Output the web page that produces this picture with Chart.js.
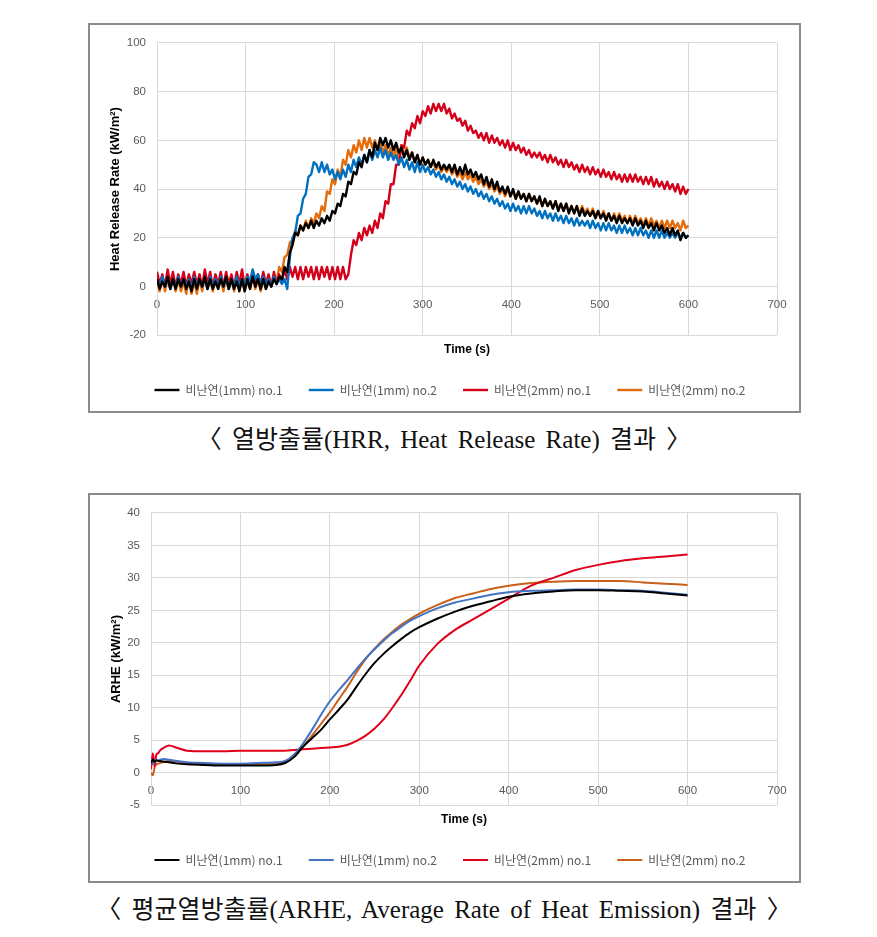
<!DOCTYPE html>
<html>
<head>
<meta charset="utf-8">
<script src="https://cdn.jsdelivr.net/npm/chart.js@4.4.1/dist/chart.umd.min.js"></script>
<style>
    body { margin: 0; background: #fff; width: 877px; height: 937px; position: relative; overflow: hidden; }
    .frame { position: absolute; left: 88px; width: 713px; height: 390px; box-sizing: border-box; border: 2px solid #8c8c8c; pointer-events: none; z-index: 2; }
    .wrap { position: absolute; left: 89px; width: 722px; height: 381px; z-index: 1; }
    .caption { position: absolute; left: 0; width: 888px; height: 30px; line-height: 30px; text-align: center;
               font-family: "Liberation Serif", "Noto Sans CJK KR", serif; font-size: 25px; word-spacing: 4px;
               color: #111; white-space: pre; }
</style>
</head>
<body>
<div class="wrap" style="top:25px"><canvas id="hrrChart"></canvas></div>
<div class="frame" style="top:23px"></div>
<div class="caption" style="top:425px">〈 열방출률(HRR, Heat Release Rate) 결과 〉</div>

<div class="wrap" style="top:495px"><canvas id="arheChart"></canvas></div>
<div class="frame" style="top:493px"></div>
<div class="caption" style="top:895px">〈 평균열방출률(ARHE, Average Rate of Heat Emission) 결과 〉</div>

<script>
// Series names (legend)
const seriesNames = ['비난연(1mm) no.1', '비난연(1mm) no.2', '비난연(2mm) no.1', '비난연(2mm) no.2'];

// ---- Heat Release Rate, sampled every 3 s (0..600 s), kW/m2 ----
const hrrStep = 3;
const hrrBlack1 = [
    3,-1,2,0,4,-1,3,-1,3,0,
    3,-1,2,-2,3,-1,3,0,4,-1,
    3,-1,2,-1,3,0,4,-1,3,-1,
    2,-2,3,-2,3,-1,4,0,3,-1,
    3,-1,2,0,3,1,4,3,8,6,
    14,17,22,21,25,23,26,24,27,24,
    27,25,28,26,29,27,31,30,34,33,
    38,37,43,42,47,46,51,49,54,51,
    56,53,59,56,61,58,61,57,60,56,
    59,55,57,53,56,52,55,51,54,50,
    53,50,52,49,52,49,51,48,50,48,
    50,47,50,46,49,46,50,46,48,45,
    47,44,46,42,45,41,44,40,43,39,
    41,38,41,37,40,36,39,36,38,35,
    38,35,37,34,37,33,36,33,35,32,
    35,31,34,31,34,30,33,30,33,29,
    32,29,31,29,31,28,31,28,30,27,
    30,27,29,26,29,26,28,26,28,25,
    28,25,27,24,27,24,26,23,26,23,
    25,22,24,21,24,21,23,19,22,20,
    21
];
const hrrBlue1 = [
    3,0,4,0,3,-1,3,0,4,0,
    3,0,3,-1,4,0,3,0,3,-1,
    4,0,3,0,4,0,3,-1,3,0,
    4,0,3,1,4,2,7,3,5,1,
    4,1,3,0,4,1,3,1,3,-1,
    12,20,22,29,30,36,38,45,46,51,
    50,47,51,47,50,46,48,44,47,44,
    48,45,50,47,52,49,53,50,54,51,
    56,52,56,53,57,53,56,52,55,52,
    54,50,53,49,52,48,51,47,51,47,
    50,47,49,46,48,45,47,44,46,43,
    45,42,44,41,43,40,42,39,41,38,
    40,37,39,36,38,35,37,34,36,33,
    35,32,34,31,34,31,33,30,33,30,
    33,30,32,29,31,28,31,28,30,27,
    30,27,29,26,29,26,28,25,28,25,
    27,25,27,24,27,24,26,23,26,23,
    26,23,25,22,25,22,25,22,24,21,
    24,21,24,21,23,20,23,20,23,20,
    23,20,22,20,22,20,22,20,22,20,
    21
];
const hrrRed2 = [
    6,1,5,0,7,1,6,0,5,1,
    6,0,5,1,6,1,5,0,7,1,
    6,0,5,1,6,0,6,1,5,0,
    6,1,7,0,5,1,6,0,5,1,
    6,1,5,0,6,1,5,2,7,3,
    8,4,8,3,8,3,8,4,8,3,
    8,3,8,4,8,3,8,3,8,3,
    8,3,5,13,19,17,22,19,24,21,
    25,22,27,24,30,28,35,34,42,42,
    50,50,58,57,64,62,67,65,70,67,
    72,70,74,71,75,72,75,72,75,71,
    73,69,71,68,69,66,68,64,66,63,
    64,61,63,60,63,59,62,59,61,58,
    60,57,60,56,59,56,58,55,57,54,
    56,53,55,53,55,52,54,51,54,51,
    53,50,52,49,52,49,51,48,50,47,
    50,47,49,46,49,46,48,45,48,45,
    47,44,47,44,46,43,46,43,46,43,
    46,43,45,42,45,42,45,41,44,41,
    43,40,43,40,42,39,42,38,41,38,
    40
];
const hrrOrange2 = [
    3,-2,4,-2,3,-1,4,-2,3,-2,
    2,-3,3,-3,2,-3,3,-2,4,-1,
    3,-2,4,-1,3,-2,4,-1,3,-2,
    4,-1,3,-2,3,-1,4,-1,3,-2,
    3,-1,4,0,4,2,8,6,12,13,
    18,19,23,21,25,23,27,24,28,26,
    30,28,33,31,39,38,44,42,48,45,
    52,50,56,53,58,55,60,56,61,57,
    61,57,60,56,59,55,58,54,57,53,
    57,53,58,54,57,53,55,51,54,50,
    53,50,52,49,51,48,50,47,49,47,
    49,46,48,45,47,44,47,44,46,43,
    45,42,44,41,43,40,42,39,41,38,
    40,37,40,37,39,36,39,36,38,35,
    38,35,37,34,36,33,36,33,35,32,
    35,32,34,31,34,31,33,30,33,30,
    33,30,32,29,32,29,31,28,31,28,
    30,27,30,27,30,27,29,26,29,26,
    29,26,28,25,28,25,28,25,27,24,
    27,24,27,24,27,24,26,23,27,24,
    25
];
const hrrTime = hrrBlack1.map((v, i) => i * hrrStep);

// ---- ARHE, kW/m2 ----
const arheTime = [0, 2, 4, 6, 8, 10, 15, 20, 30, 40, 60, 80, 100, 120, 140, 150, 160, 170, 180, 190,
    200, 210, 220, 230, 240, 250, 260, 270, 280, 290, 300, 320, 340, 360, 380, 400, 425, 450, 475, 500,
    525, 550, 575, 600];
const arheBlack1 = [1.5, 2.0, 1.7, 1.9, 1.8, 1.8, 1.7, 1.6, 1.4, 1.3, 1.2, 1.1, 1.1, 1.1, 1.2, 1.5, 2.4, 4.0, 5.3, 6.6,
    8.2, 9.7, 11.3, 13.3, 15.2, 16.9, 18.3, 19.5, 20.6, 21.6, 22.4, 23.7, 24.8, 25.7, 26.4, 27.1, 27.6, 27.9, 28.1, 28.1,
    28.0, 27.9, 27.6, 27.3];
const arheBlue1 = [2.2, 1.3, 1.8, 2.0, 1.9, 2.0, 2.1, 2.0, 1.8, 1.6, 1.5, 1.4, 1.4, 1.5, 1.6, 1.8, 2.8, 4.5, 6.6, 8.9,
    11.0, 12.7, 14.3, 16.0, 17.6, 19.0, 20.3, 21.5, 22.5, 23.4, 24.1, 25.3, 26.2, 26.8, 27.4, 27.8, 28.0, 28.1, 28.2, 28.2,
    28.1, 28.0, 27.7, 27.4];
const arheRed2 = [0.5, 3.0, 1.0, 2.8, 3.0, 3.4, 3.9, 4.2, 3.8, 3.4, 3.3, 3.3, 3.4, 3.4, 3.4, 3.4, 3.5, 3.6, 3.7, 3.8,
    3.9, 4.0, 4.3, 4.9, 5.7, 6.8, 8.2, 10.0, 12.0, 14.2, 16.5, 19.8, 22.0, 23.6, 25.2, 26.8, 28.8, 30.0, 31.2, 32.0,
    32.6, 33.0, 33.3, 33.6];
const arheOrange2 = [0.0, -0.4, 0.8, 1.3, 1.4, 1.5, 1.7, 1.8, 1.7, 1.5, 1.3, 1.2, 1.2, 1.3, 1.4, 1.6, 2.6, 4.0, 5.7, 7.5,
    9.3, 11.3, 13.3, 15.5, 17.5, 19.1, 20.5, 21.7, 22.8, 23.7, 24.5, 25.8, 26.9, 27.6, 28.3, 28.8, 29.2, 29.4, 29.5, 29.5,
    29.5, 29.3, 29.1, 28.9];

// Axis ranges / ticks
const timeTicks = {min: 0, max: 700, step: 100};
const hrrTicks = {min: -20, max: 100, step: 20};
const arheTicks = {min: -5, max: 40, step: 5};

const gridColor = '#d9d9d9';
const tickFont = {family: '"Liberation Sans", Arial, sans-serif', size: 11.5};
const legendFont = {family: '"Noto Sans CJK KR", sans-serif', size: 12};

function toPoints(times, values) {
    return values.map((v, i) => ({x: times[i], y: v}));
}

function lineSet(label, color, times, values, width, smooth) {
    return {
        label: label,
        data: toPoints(times, values),
        borderColor: color,
        backgroundColor: color,
        borderWidth: width,
        borderJoinStyle: 'round',
        pointRadius: 0,
        tension: smooth ? 0.4 : 0,
        cubicInterpolationMode: smooth ? 'monotone' : 'default',
        xAxisID: 'x',
        yAxisID: 'y'
    };
}

function chartOptions(yTitle, yRange, yWidth, yTitlePad) {
    return {
        responsive: true,
        maintainAspectRatio: false,
        animation: false,
        devicePixelRatio: 1,
        layout: { padding: { top: 17, right: 0, bottom: 0, left: 0 } },
        plugins: {
            legend: {
                position: 'bottom',
                labels: {
                    usePointStyle: true,
                    pointStyle: 'line',
                    pointStyleWidth: 25,
                    padding: 26,
                    color: '#595959',
                    font: legendFont
                }
            },
            tooltip: { enabled: false }
        },
        scales: {
            x: {
                type: 'linear',
                position: { y: 0 },
                min: timeTicks.min,
                max: timeTicks.max,
                ticks: { stepSize: timeTicks.step, padding: 11, color: '#595959', font: tickFont },
                grid: { color: gridColor, drawTicks: false },
                border: { color: gridColor }
            },
            xTitle: {
                type: 'linear',
                position: 'bottom',
                grid: { display: false },
                ticks: { display: false },
                border: { display: false },
                title: {
                    display: true,
                    text: 'Time (s)',
                    color: '#000',
                    font: { family: '"Liberation Sans", Arial, sans-serif', size: 12, weight: 'bold' },
                    padding: { top: 0, bottom: 1.6 }
                },
                afterFit: function(scale) { scale.height = 22.8; }
            },
            // empty spacer on the right, keeps the plot narrower than the legend row
            ySpace: {
                type: 'linear',
                position: 'right',
                grid: { display: false },
                ticks: { display: false },
                border: { display: false },
                afterFit: function(scale) { scale.width = 34; }
            },
            y: {
                min: yRange.min,
                max: yRange.max,
                ticks: { stepSize: yRange.step, padding: 11, color: '#595959', font: tickFont },
                grid: { color: gridColor, drawTicks: false },
                border: { color: gridColor },
                title: {
                    display: true,
                    text: yTitle,
                    color: '#000',
                    font: { family: '"Liberation Sans", Arial, sans-serif', size: 13, weight: 'bold' },
                    padding: { top: yTitlePad, bottom: 0 }
                },
                afterFit: function(scale) { scale.width = yWidth; }
            }
        }
    };
}

// Heat Release Rate chart
const hrrChart = new Chart(document.getElementById('hrrChart'), {
    type: 'line',
    data: {
        datasets: [
            lineSet(seriesNames[0], '#000000', hrrTime, hrrBlack1, 2.4, false),
            lineSet(seriesNames[1], '#0070c0', hrrTime, hrrBlue1, 2.4, false),
            lineSet(seriesNames[2], '#d4001a', hrrTime, hrrRed2, 2.4, false),
            lineSet(seriesNames[3], '#e46c0a', hrrTime, hrrOrange2, 2.4, false)
        ]
    },
    options: chartOptions('Heat Release Rate (kW/m²)', hrrTicks, 68, 19)
});

// ARHE chart
const arheChart = new Chart(document.getElementById('arheChart'), {
    type: 'line',
    data: {
        datasets: [
            lineSet(seriesNames[0], '#000000', arheTime, arheBlack1, 2, true),
            lineSet(seriesNames[1], '#4472c4', arheTime, arheBlue1, 2, true),
            lineSet(seriesNames[2], '#e0001a', arheTime, arheRed2, 2, true),
            lineSet(seriesNames[3], '#c8601a', arheTime, arheOrange2, 2, true)
        ]
    },
    options: chartOptions('ARHE (kW/m²)', arheTicks, 62, 20)
});
</script>
</body>
</html>
